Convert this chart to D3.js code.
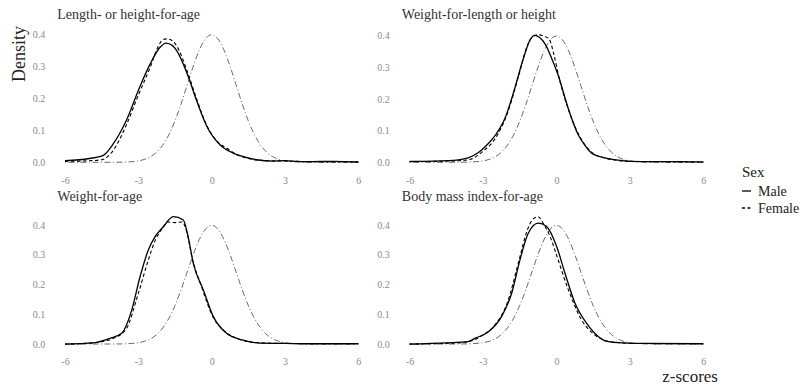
<!DOCTYPE html>
<html>
<head>
<meta charset="utf-8">
<script src="https://cdn.jsdelivr.net/npm/d3@7"></script>
<style>
  body { margin: 0; background: #fff; }
  svg { display: block; font-family: 'Liberation Serif', 'DejaVu Serif', serif; }
</style>
</head>
<body>
<div class="main"></div>
<script>
// panel titles, in facet order
let panelTitles = ['Length- or height-for-age', 'Weight-for-length or height', 'Weight-for-age', 'Body mass index-for-age'];
let xTicks = [-6, -3, 0, 3, 6];
let yTicks = [0.0, 0.1, 0.2, 0.3, 0.4];
let sexes = ['Male', 'Female'];

// reference curve (WHO standard), [z, density]
let refCurve = [[-6, 0], [-5, 0], [-4, 0.0001], [-3.5, 0.0009], [-3, 0.0044], [-2.75, 0.0091], [-2.5, 0.0175], [-2.25, 0.0317],
  [-2, 0.054], [-1.75, 0.0863], [-1.5, 0.1295], [-1.25, 0.1826], [-1, 0.242], [-0.75, 0.3011], [-0.5, 0.3521], [-0.25, 0.3867],
  [0, 0.3989], [0.25, 0.3867], [0.5, 0.3521], [0.75, 0.3011], [1, 0.242], [1.25, 0.1826], [1.5, 0.1295], [1.75, 0.0863],
  [2, 0.054], [2.25, 0.0317], [2.5, 0.0175], [2.75, 0.0091], [3, 0.0044], [3.5, 0.0009], [4, 0.0001], [5, 0], [6, 0]];

// length/height-for-age
let lhaMale = [[-6, 0.005], [-5, 0.012], [-4.45, 0.021], [-4.05, 0.055], [-3.5, 0.129], [-2.95, 0.234], [-2.52, 0.307], [-2.12, 0.359],
  [-1.87, 0.373], [-1.6, 0.365], [-1.43, 0.349], [-1.02, 0.281], [-0.61, 0.192], [-0.2, 0.113], [0.34, 0.055], [0.88, 0.029],
  [1.3, 0.018], [1.84, 0.008], [2.5, 0.004], [3, 0.005], [3.5, 0.003], [4, 0.002], [5, 0.003], [6, 0.001]];
let lhaFemale = [[-6, 0.003], [-5, 0.005], [-4.5, 0.008], [-4, 0.04], [-3.5, 0.115], [-3, 0.21], [-2.5, 0.3], [-2.2, 0.36],
  [-2, 0.383], [-1.85, 0.386], [-1.6, 0.38], [-1.4, 0.36], [-1, 0.285], [-0.6, 0.195], [-0.2, 0.115], [0.3, 0.06],
  [0.6, 0.045], [1, 0.025], [1.5, 0.012], [2, 0.006], [3, 0.004], [4, 0.002], [6, 0.001]];

// weight-for-length/height
let wflMale = [[-6, 0.003], [-5, 0.004], [-4, 0.008], [-3.6, 0.014], [-3.2, 0.03], [-2.9, 0.05], [-2.5, 0.085], [-2.1, 0.139],
  [-1.7, 0.234], [-1.35, 0.328], [-1.08, 0.386], [-0.88, 0.401], [-0.7, 0.395], [-0.47, 0.375], [-0.2, 0.33], [0.07, 0.276],
  [0.48, 0.171], [0.89, 0.087], [1.2, 0.05], [1.44, 0.029], [1.98, 0.014], [2.5, 0.007], [3, 0.003], [4, 0.002], [5, 0.002], [6, 0.001]];
let wflFemale = [[-6, 0.002], [-4, 0.005], [-3.5, 0.01], [-3, 0.035], [-2.5, 0.075], [-2, 0.155], [-1.5, 0.285], [-1.25, 0.355],
  [-1, 0.395], [-0.75, 0.403], [-0.5, 0.398], [-0.3, 0.39], [-0.1, 0.34], [0.1, 0.27], [0.5, 0.165], [1, 0.075],
  [1.5, 0.028], [2, 0.013], [2.5, 0.006], [3, 0.003], [4, 0.002], [6, 0.001]];

// weight-for-age
let wfaMale = [[-6, 0], [-4.84, 0.004], [-4.16, 0.019], [-3.68, 0.036], [-3.27, 0.114], [-2.93, 0.226], [-2.59, 0.316], [-2.32, 0.36],
  [-1.98, 0.394], [-1.57, 0.428], [-1.16, 0.417], [-0.96, 0.36], [-0.75, 0.271], [-0.34, 0.182], [0.07, 0.092], [0.61, 0.036],
  [1.29, 0.013], [1.98, 0.003], [3, 0.002], [4, 0.001], [6, 0.001]];
let wfaFemale = [[-6, 0], [-5, 0.003], [-4.5, 0.008], [-4, 0.02], [-3.5, 0.05], [-3, 0.17], [-2.6, 0.28], [-2.3, 0.35],
  [-2, 0.39], [-1.8, 0.41], [-1.5, 0.408], [-1.2, 0.41], [-1, 0.37], [-0.8, 0.29], [-0.4, 0.19], [0, 0.1],
  [0.5, 0.045], [1, 0.02], [1.5, 0.008], [2, 0.004], [3, 0.002], [6, 0.001]];

// BMI-for-age
let bmiMale = [[-6, 0], [-4.5, 0.004], [-3.6, 0.008], [-3.33, 0.019], [-2.78, 0.041], [-2.24, 0.092], [-1.83, 0.17], [-1.49, 0.282],
  [-1.15, 0.372], [-0.74, 0.406], [-0.4, 0.395], [0.01, 0.328], [0.35, 0.238], [0.76, 0.137], [1.23, 0.07], [1.71, 0.025],
  [1.98, 0.011], [2.5, 0.005], [3.5, 0.002], [6, 0.001]];
let bmiFemale = [[-6, 0], [-4, 0.004], [-3.5, 0.01], [-3, 0.03], [-2.5, 0.065], [-2, 0.14], [-1.5, 0.29], [-1.2, 0.38],
  [-1, 0.415], [-0.75, 0.428], [-0.5, 0.4], [-0.25, 0.36], [0, 0.3], [0.5, 0.18], [1, 0.085], [1.5, 0.035],
  [2, 0.012], [2.5, 0.005], [3, 0.002], [6, 0.001]];

let panelData = [[lhaMale, lhaFemale], [wflMale, wflFemale], [wfaMale, wfaFemale], [bmiMale, bmiFemale]];

let width = 808, height = 385;
let cols = [[50.3, 373], [394.8, 718]];
let rows = [[28.4, 168.7], [210.3, 350.4]];

let svg = d3.select('.main').append('svg')
  .attr('width', width)
  .attr('height', height);

let line = (x, y) => d3.line().x(d => x(d[0])).y(d => y(d[1])).curve(d3.curveMonotoneX);

panelTitles.forEach((title, i) => {
  let c = cols[i % 2], r = rows[Math.floor(i / 2)];
  let series = panelData[i];
  let x = d3.scaleLinear().domain([-6.6, 6.6]).range(c);
  let yMax = d3.max([refCurve, ...series], s => d3.max(s, d => d[1]));
  let y = d3.scaleLinear().domain([-0.05 * yMax, 1.05 * yMax]).range([r[1], r[0]]);
  let g = svg.append('g');

  g.append('text')
    .attr('x', c[0] + 7).attr('y', r[0] - 9)
    .attr('font-size', 14).attr('fill', '#333')
    .text(title);

  let xAxis = g.append('g').attr('transform', `translate(0,${r[1] + 1})`)
    .call(d3.axisBottom(x).tickValues(xTicks).tickSize(0).tickPadding(7).tickFormat(d3.format('d')));
  let yAxis = g.append('g').attr('transform', `translate(${c[0] - 2},0)`)
    .call(d3.axisLeft(y).tickValues(yTicks).tickSize(0).tickPadding(3).tickFormat(d3.format('.1f')));
  [xAxis, yAxis].forEach(a => {
    a.attr('font-family', null).attr('font-size', null);
    a.select('.domain').remove();
    a.selectAll('text').attr('fill', '#8a8a8a').attr('font-size', 10);
  });
  // plain hyphen for negatives, as in the reference
  xAxis.selectAll('text').text(d => String(d));

  g.append('path').datum(refCurve)
    .attr('d', line(x, y))
    .attr('fill', 'none').attr('stroke', '#444').attr('stroke-width', 0.8)
    .attr('stroke-dasharray', '1,2.5,6,2.5');
  g.append('path').datum(series[0])
    .attr('d', line(x, y))
    .attr('fill', 'none').attr('stroke', '#000').attr('stroke-width', 1.3);
  g.append('path').datum(series[1])
    .attr('d', line(x, y))
    .attr('fill', 'none').attr('stroke', '#000').attr('stroke-width', 1.1)
    .attr('stroke-dasharray', '3.5,2.5');
});

// axis titles
svg.append('text')
  .attr('transform', 'translate(25,26) rotate(-90)')
  .attr('text-anchor', 'end')
  .attr('font-size', 18).attr('fill', '#222')
  .text('Density');
svg.append('text')
  .attr('x', cols[1][1]).attr('y', 382)
  .attr('text-anchor', 'end')
  .attr('font-size', 17).attr('fill', '#222')
  .text('z-scores');

// legend
let legend = svg.append('g').attr('transform', 'translate(742,0)');
legend.append('text').attr('x', 0).attr('y', 177).attr('font-size', 15).attr('fill', '#222').text('Sex');
sexes.forEach((s, i) => {
  let yy = 191 + i * 17;
  legend.append('line')
    .attr('x1', 0).attr('x2', 9).attr('y1', yy).attr('y2', yy)
    .attr('stroke', '#000').attr('stroke-width', 1.3)
    .attr('stroke-dasharray', i ? '3,2.5' : null);
  legend.append('text').attr('x', 16).attr('y', yy + 4.5).attr('font-size', 14).attr('fill', '#222').text(s);
});
</script>
</body>
</html>
